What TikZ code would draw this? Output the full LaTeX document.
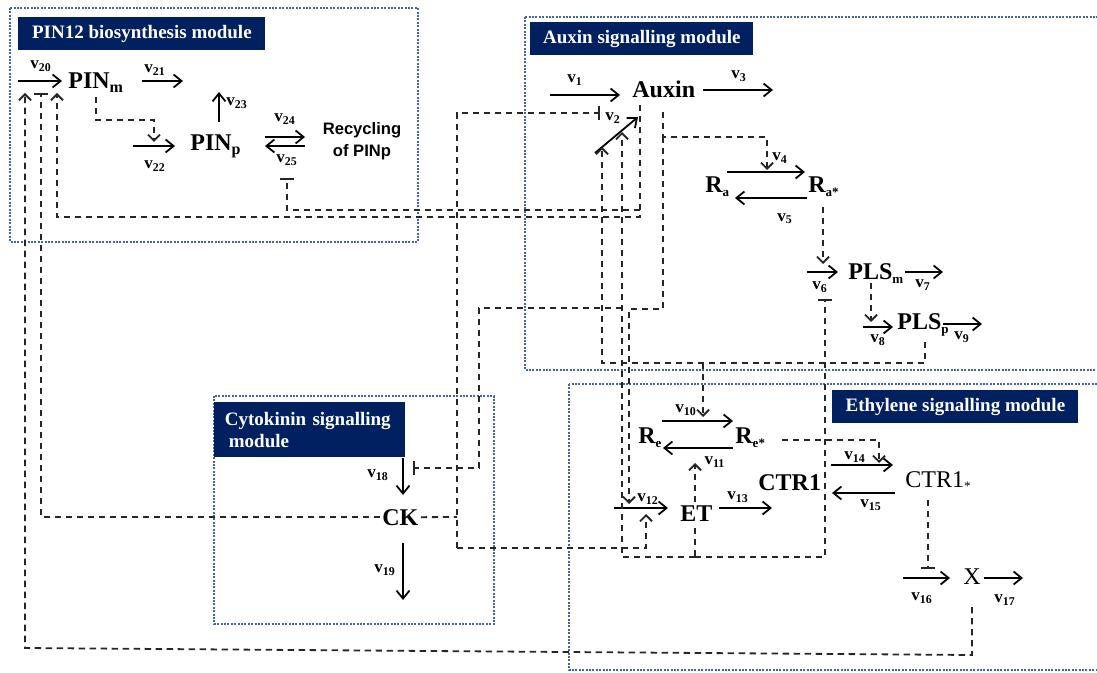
\documentclass[tikz,border=0pt]{standalone}
\usepackage{fontspec}
\setmainfont{Liberation Serif}
\newfontfamily\arialfont{Liberation Sans}
\usetikzlibrary{arrows.meta}
\definecolor{modblue}{RGB}{70,102,152}
\definecolor{navy}{RGB}{0,32,96}
\newcommand{\rx}[1]{v\textsubscript{#1}}
\newcommand{\tinysub}[1]{\textsubscript{\fontsize{6.5}{7}\selectfont #1}}

\begin{document}
\begin{tikzpicture}[
    x=0.5pt, y=-0.5pt,
    module/.style={draw=modblue, line width=1.2pt, dash pattern=on 1pt off 0.7pt},
    modtitle/.style={fill=navy, text=white, anchor=north west, inner sep=0pt,
                     font=\fontsize{9.5}{11}\selectfont\bfseries},
    species/.style={anchor=base west, inner sep=1pt, font=\fontsize{12}{14}\selectfont\bfseries},
    plain/.style={anchor=base west, inner sep=1pt, font=\fontsize{12}{14}\selectfont},
    rate/.style={inner sep=0pt, font=\fontsize{8.5}{10}\selectfont\bfseries},
    rxn/.style={-{Straight Barb[length=4pt,width=6.5pt]}, line width=0.9pt},
    reg/.style={draw=black!85, line width=0.9pt, dash pattern=on 3.2pt off 2.3pt},
    act/.style={reg, -{Straight Barb[length=3pt,width=6pt]}},
    inh/.style={reg, -{Bar[width=7pt]}},
]
\useasboundingbox (0,0) rectangle (1097,673);
\clip (0,0) rectangle (1097,673);

% Module frames
\draw[module] (10,8) rectangle (418,242);
\draw[module] (525,17) rectangle (1120,370);
\draw[module] (214,396) rectangle (494,624);
\draw[module] (569,384) rectangle (1120,670);

% Module titles
\node[modtitle, minimum width=123.5pt, minimum height=16.5pt] (tpin) at (18,17) {PIN12 biosynthesis module};
\node[modtitle, minimum width=111.5pt, minimum height=16.5pt] (taux) at (530,22) {Auxin signalling module};
\node[modtitle, minimum width=95.5pt, minimum height=27.5pt, text width=85pt, align=left] (tck) at (214,402)
    {Cytokinin signalling\\\hspace*{2pt}module};
\node[modtitle, minimum width=123pt, minimum height=16.5pt] (teth) at (832,390) {Ethylene signalling module};

% Species
\node[species] (pinm)  at (66,89)   {PIN\textsubscript{m}};
\node[species] (pinp)  at (188,151) {PIN\textsubscript{p}};
\node[align=center, inner sep=0pt, font=\arialfont\fontsize{8.3}{11}\selectfont\bfseries]
      (recycle) at (362,141) {Recycling\\of PINp};
\node[species] (auxin) at (630,98)  {Auxin};
\node[species] (ra)    at (703,193) {R\tinysub{a}};
\node[species] (ras)   at (806,193) {R\tinysub{a*}};
\node[species] (plsm)  at (846,280) {PLS\tinysub{m}};
\node[species] (plsp)  at (895,330) {PLS\tinysub{p}};
\node[species] (re)    at (636,444) {R\tinysub{e}};
\node[species] (res)   at (733,444) {R\tinysub{e*}};
\node[species] (ctr)   at (756,490) {CTR1};
\node[species] (et)    at (678,521) {ET};
\node[plain]   (ctrs)  at (903,487) {CTR1\tinysub{*}};
\node[plain]   (xx)    at (961,584) {X};
\node[species] (ck)    at (380,525) {CK};

% Reactions: number / tail / head
\foreach \n/\xa/\ya/\xb/\yb in {
    1/550/95/620/95, 2/595/153/638/117, 3/703/90/773/90,
    4/727/172/805/172, 5/807/198/735/198, 6/807/272/838/272,
    7/905/272/943/272, 8/863/327/893/327, 9/943/324/982/324,
    10/662/421/733/421, 11/733/448/663/448, 12/614/508/668/508,
    13/719/508/772/508, 14/831/465/893/465, 15/895/493/832/493,
    16/903/578/950/578, 17/984/578/1023/578, 18/403/458/403/495,
    19/403/543/403/600, 20/18/81/62/81, 21/142/81/183/81,
    22/133/146/175/146, 23/219/122/219/92, 24/265/137/305/137,
    25/305/146/265/146}
{
    \coordinate (s\n) at (\xa,\ya);
    \coordinate (e\n) at (\xb,\yb);
    \draw[rxn] (s\n) -- (e\n);
}

% Rate labels
\foreach \n/\x/\y in {
    1/575/80, 2/613/118, 3/739/76, 4/780/158, 5/785/219,
    6/820/287, 7/923/285, 8/878/340, 9/962/337, 10/686/410,
    11/715/462, 12/648/499, 13/738/497, 14/855/457, 15/871/505,
    16/922/598, 17/1005/600, 18/378/475, 19/385/570, 20/41/66,
    21/155/70, 22/155/166, 23/237/103, 24/285/119, 25/287/160}
    \node[rate] (v\n) at (\x,\y) {\rx{\n}};

% Targets of the regulatory links
\coordinate (a20a) at (25,93);
\coordinate (b20)  at (41,93);
\coordinate (a20c) at (57,93);
\coordinate (a22)  at (154,142);
\coordinate (b25)  at (287,178);
\coordinate (b2)   at (600,113);
\coordinate (a2a)  at (602,147);
\coordinate (a2b)  at (622,132);
\coordinate (a4)   at (767,170);
\coordinate (a6)   at (823,264);
\coordinate (b6)   at (825,299);
\coordinate (a8)   at (871,322);
\coordinate (a10)  at (703,417);
\coordinate (a11)  at (695,463);
\coordinate (a12a) at (629,504);
\coordinate (a12b) at (646,514);
\coordinate (a14)  at (879,463);
\coordinate (b16)  at (928,569);
\coordinate (b18)  at (413,468);
\coordinate (etup) at (695,502);
\coordinate (etdn) at (695,528);

% PIN module
\draw[act] (96,97) -- (96,120) -| (a22);

% Auxin feedback
\draw[act] (640,105) -- (640,217) -| (a20c);
\draw[inh] (640,210) -| (b25);
\draw[act] (663,112) |- (767,137) -- (a4);
\draw[act] (663,137) -- (663,309) -| (a12a);
\draw[act] (823,207) -- (a6);
\draw[act] (871,283) -- (a8);
\draw[act] (925,342) -- (925,363) -| (a2a);
\draw[act] (703,363) -- (a10);

% Cytokinin links
\draw[reg] (ck.east) -- (457,517);
\draw[inh] (ck.west) -| (b20);
\draw[inh] (457,548) |- (b2);
\draw[act] (457,548) -| (a12b);

% Ethylene links
\draw[act] (etup) -- (a11);
\draw[reg] (etdn) -- (695,557);
\draw[act] (695,557) -| (a2b);
\draw[inh] (622,308) -| (479,468) -- (b18);
\draw[inh] (695,557) -| (b6);
\draw[act] (782,440) -| (a14);
\draw[inh] (928,500) -- (b16);

% X back to PIN transcription
\draw[act] (972,607) -- (972,655) -- (25,648) -- (a20a);

\end{tikzpicture}
\end{document}
